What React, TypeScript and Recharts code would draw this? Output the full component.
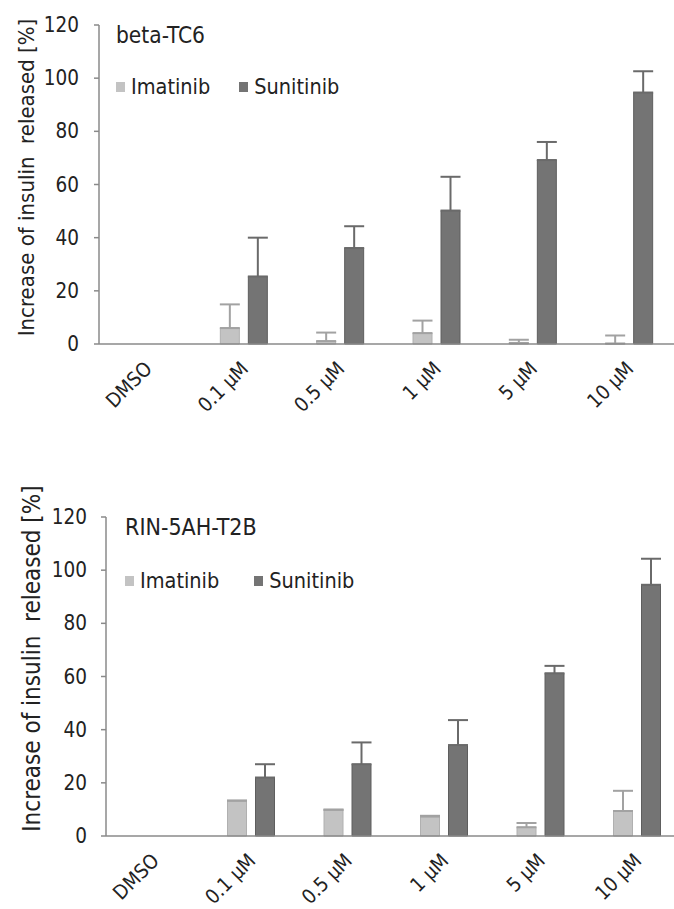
import React from 'react';
import { BarChart, Bar, XAxis, YAxis, ErrorBar, Legend } from 'recharts';

const categories = ['DMSO', '0.1 µM', '0.5 µM', '1 µM', '5 µM', '10 µM'];
const yTicks = [0, 20, 40, 60, 80, 100, 120];
const boundaryTicks = [0, 1, 2, 3, 4, 5, 6];
const seriesNames = ['Imatinib', 'Sunitinib'];
const yLabelText = 'Increase of insulin  released [%]';

// beta-TC6
const topImatinib = [0, 6.0, 1.1, 4.1, 0.4, 0.2];
const topImatinibErr = [0, 8.9, 3.2, 4.7, 1.2, 3.0];
const topSunitinib = [0, 25.4, 36.1, 50.2, 69.2, 94.6];
const topSunitinibErr = [0, 14.6, 8.2, 12.7, 6.8, 8.0];

// RIN-5AH-T2B
const botImatinib = [0, 13.3, 9.9, 7.3, 3.3, 9.4];
const botImatinibErr = [0, 0, 0, 0.3, 1.6, 7.6];
const botSunitinib = [0, 22.0, 27.0, 34.2, 61.2, 94.5];
const botSunitinibErr = [0, 5.0, 8.2, 9.4, 2.8, 9.8];

const FONT = '"DejaVu Sans Condensed", "DejaVu Sans", sans-serif';
const LIGHT = '#c3c3c3';
const DARK = '#747474';
const AXIS = '#8a8a8a';

function build(a: number[], ae: number[], b: number[], be: number[]) {
  return categories.map((c, i) => ({
    cat: c,
    imatinib: a[i],
    imatinibErr: [0, ae[i]],
    sunitinib: b[i],
    sunitinibErr: [0, be[i]],
  }));
}

const XTick = (props: any) => {
  const { x, y, payload } = props;
  return (
    <text
      x={0}
      y={0}
      transform={`translate(${x + 6},${y + 20}) rotate(-45)`}
      textAnchor="end"
      fontFamily={FONT}
      fontSize={20}
      fill="#222"
    >
      {payload.value}
    </text>
  );
};

const YTick = (props: any) => {
  const { x, y, payload, shift } = props;
  return (
    <text x={x - (shift || 0)} y={y} dy={7} textAnchor="end" fontFamily={FONT} fontSize={20.5} fill="#222">
      {payload.value}
    </text>
  );
};

const NoTick = () => <g />;

function makeLegend(title: string, titleSize: number, gap: number, itemGap: number) {
  return (props: any) => {
    const payload = props.payload || [];
    return (
      <div style={{ fontFamily: FONT, color: '#222', lineHeight: 1, textAlign: 'left' }}>
        <div style={{ fontSize: titleSize, height: 24 }}>{title}</div>
        <div style={{ display: 'flex', marginTop: gap, fontSize: 21.5 }}>
          {payload.map((p: any, i: number) => (
            <div key={i} style={{ display: 'flex', alignItems: 'center', marginRight: itemGap }}>
              <span style={{ display: 'inline-block', width: 9, height: 10, background: p.color, marginRight: 6 }} />
              <span>{p.value}</span>
            </div>
          ))}
        </div>
      </div>
    );
  };
}

function YLabel(dx: number, dy: number, size: number) {
  return (props: any) => {
    const vb = props.viewBox || {};
    const cx = vb.x + dx;
    const cy = vb.y + vb.height / 2 + dy;
    return (
      <text
        x={cx}
        y={cy}
        transform={`rotate(-90, ${cx}, ${cy})`}
        textAnchor="middle"
        dominantBaseline="central"
        fontFamily={FONT}
        fontSize={size}
        fill="#222"
        style={{ whiteSpace: 'pre' }}
        xmlSpace="preserve"
      >
        {yLabelText}
      </text>
    );
  };
}

function Panel(props: {
  data: any[];
  title: string;
  titleSize: number;
  width: number;
  height: number;
  margin: any;
  yWidth: number;
  tickShift: number;
  legendPos: { left: number; top: number };
  legendGap: number;
  itemGap: number;
  labelDx: number;
  labelDy: number;
  labelSize: number;
}) {
  const axisH = props.height - props.margin.top - props.margin.bottom - 319;
  return (
    <BarChart
      width={props.width}
      height={props.height}
      data={props.data}
      margin={props.margin}
      barSize={19}
      barGap={9}
    >
      <XAxis
        xAxisId="grid"
        type="number"
        domain={[0, 6]}
        ticks={boundaryTicks}
        height={0}
        axisLine={false}
        tickLine={{ stroke: AXIS, strokeWidth: 1.5 }}
        tickSize={7}
        tick={<NoTick />}
        interval={0}
      />
      <XAxis
        xAxisId="cat"
        dataKey="cat"
        stroke={AXIS}
        strokeWidth={1.5}
        tickLine={false}
        tickMargin={0}
        tick={<XTick />}
        height={axisH}
        interval={0}
      />
      <YAxis
        domain={[0, 120]}
        ticks={yTicks}
        width={props.yWidth}
        stroke={AXIS}
        strokeWidth={1.5}
        tickSize={5}
        tickMargin={0}
        tick={<YTick shift={props.tickShift} />}
        label={{ content: YLabel(props.labelDx, props.labelDy, props.labelSize) } as any}
        interval={0}
      />
      <Legend
        layout="horizontal"
        verticalAlign="middle"
        align="center"
        content={makeLegend(props.title, props.titleSize, props.legendGap, props.itemGap)}
        wrapperStyle={{ position: 'absolute', left: props.legendPos.left, top: props.legendPos.top, width: 420 }}
      />
      <Bar xAxisId="cat" dataKey="imatinib" name={seriesNames[0]} fill={LIGHT} stroke="#b0b0b0" isAnimationActive={false}>
        <ErrorBar dataKey="imatinibErr" width={10} stroke="#a2a2a2" strokeWidth={2} direction="y" />
      </Bar>
      <Bar xAxisId="cat" dataKey="sunitinib" name={seriesNames[1]} fill={DARK} stroke="#5e5e5e" isAnimationActive={false}>
        <ErrorBar dataKey="sunitinibErr" width={10} stroke="#6a6a6a" strokeWidth={2} direction="y" />
      </Bar>
    </BarChart>
  );
}

export default function App() {
  const top = build(topImatinib, topImatinibErr, topSunitinib, topSunitinibErr);
  const bot = build(botImatinib, botImatinibErr, botSunitinib, botSunitinibErr);
  return (
    <div style={{ position: 'absolute', left: 0, top: 0, width: 674, height: 909, overflow: 'hidden', background: '#fff' }}>
      <div style={{ position: 'absolute', left: 0, top: 0 }}>
        <Panel
          data={top}
          title="beta-TC6"
          titleSize={22.5}
          width={700}
          height={440}
          margin={{ top: 25, right: 23, bottom: 0, left: 0 }}
          yWidth={99}
          tickShift={15}
          legendPos={{ left: 116, top: 24 }}
          legendGap={28}
          itemGap={29}
          labelDx={26}
          labelDy={-7}
          labelSize={22}
        />
      </div>
      <div style={{ position: 'absolute', left: 0, top: 460 }}>
        <Panel
          data={bot}
          title="RIN-5AH-T2B"
          titleSize={23}
          width={710}
          height={449}
          margin={{ top: 57, right: 25, bottom: 0, left: 0 }}
          yWidth={106}
          tickShift={14}
          legendPos={{ left: 125, top: 56 }}
          legendGap={30}
          itemGap={35}
          labelDx={32}
          labelDy={-18}
          labelSize={24}
        />
      </div>
    </div>
  );
}
